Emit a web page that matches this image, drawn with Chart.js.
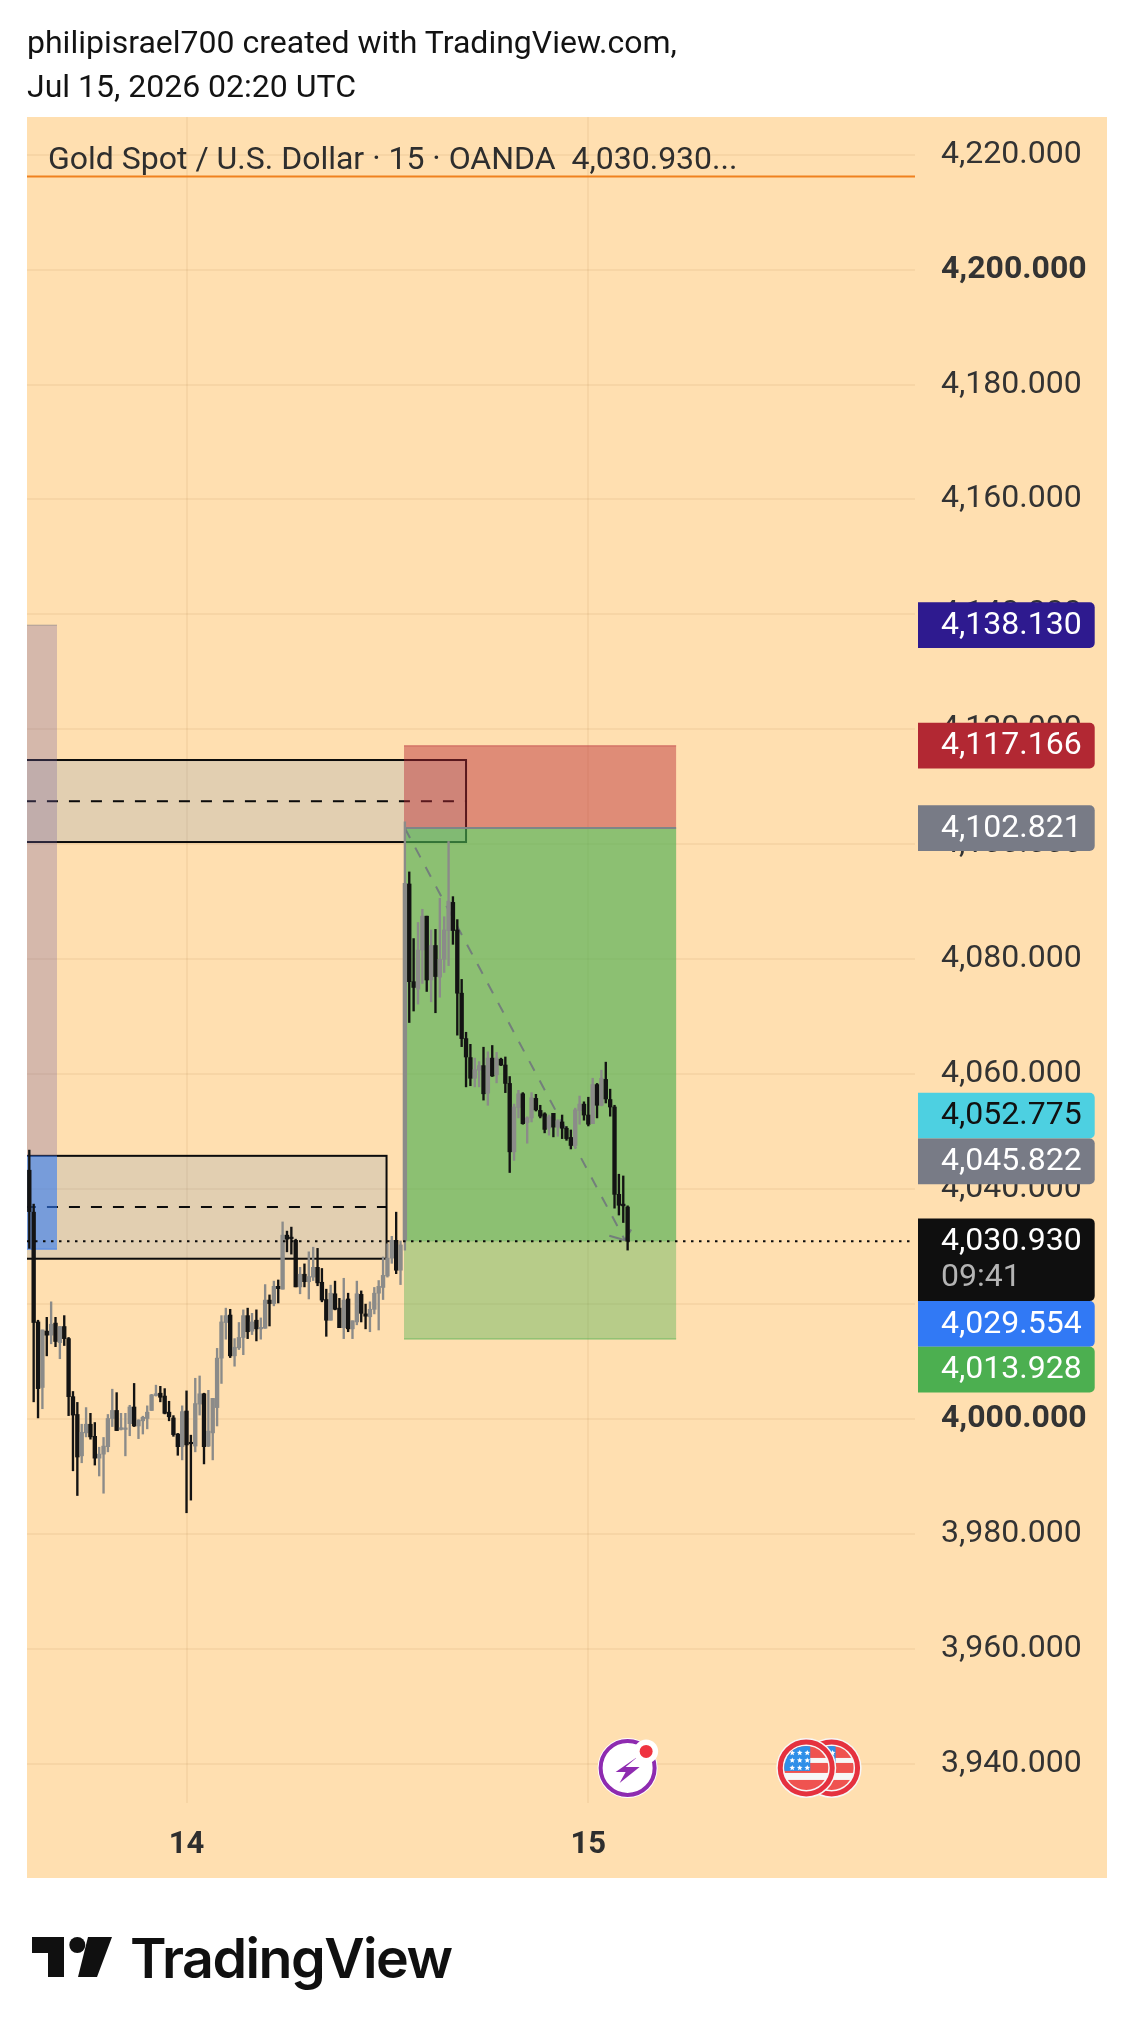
<!DOCTYPE html>
<html>
<head>
<meta charset="utf-8">
<title>Gold Spot / U.S. Dollar</title>
<script src="https://cdn.jsdelivr.net/npm/chart.js@4"></script>
<style>
  html, body { margin: 0; padding: 0; background: #fff; width: 1134px; height: 2038px; overflow: hidden; font-family: Roboto, sans-serif; }
  #c { position: absolute; left: 0; top: 0; }
  .t { position: absolute; white-space: pre; color: #131313; }
  #h1 { left: 27px; top: 23px; font-size: 32px; line-height: 38px; }
  #h2 { left: 27px; top: 67px; font-size: 32px; line-height: 38px; }
  #leg { left: 48px; top: 139px; font-size: 32px; line-height: 38px; color: #2e2e2e; }
  #logo { position: absolute; left: 0; top: 0; }
  #brand { left: 130px; top: 1925px; font: 600 55.5px/66px Inter, sans-serif; letter-spacing: -1.5px; color: #101010; }
</style>
</head>
<body>
<canvas id="c" width="1134" height="2038"></canvas>
<div class="t" id="h1">philipisrael700 created with TradingView.com,</div>
<div class="t" id="h2">Jul 15, 2026 02:20 UTC</div>
<div class="t" id="leg">Gold Spot / U.S. Dollar · 15 · OANDA  4,030.930...</div>
<svg id="logo" width="130" height="2038" viewBox="0 0 130 2038">
  <path d="M32 1937h32v40h-16v-24h-16z" fill="#101010"/>
  <circle cx="77.3" cy="1945" r="8" fill="#101010"/>
  <path d="M88 1937h24l-15 40h-19z" fill="#101010"/>
</svg>
<div class="t" id="brand">TradingView</div>
<script>
(function () {
  // 15m candles
  const opens = [
    4043.3,4036.0,4016.9,4005.5,4015.3,4014.6,4016.7,4013.3,4016.1,4014.0,
    4003.9,4000.8,3993.6,3997.6,3999.1,3997.0,3993.2,3993.9,3995.2,4000.1,
    4001.5,3998.2,3998.2,3999.2,4002.1,3998.8,3999.7,4000.1,4001.5,4004.1,
    4004.5,4004.0,4001.2,4000.2,3997.4,3995.2,4001.4,3995.9,3995.3,4002.6,
    4004.4,3995.3,3997.6,4002.0,4010.6,4016.8,4018.1,4011.0,4012.4,4014.2,
    4018.0,4015.3,4017.2,4015.7,4015.8,4020.7,4020.1,4023.1,4022.6,4032.0,
    4031.6,4031.1,4023.0,4025.2,4023.9,4024.7,4026.4,4023.8,4020.8,4017.2,
    4021.8,4019.3,4015.9,4020.9,4015.7,4016.9,4021.7,4018.3,4017.8,4019.1,
    4021.9,4022.9,4024.9,4028.0,4031.1,4025.9,4031.1,4093.1,4076.1,4074.8,
    4081.6,4087.5,4076.4,4082.4,4076.9,4080.0,4085.0,4089.9,4085.1,4074.1,
    4066.2,4062.9,4059.3,4060.7,4061.5,4056.7,4062.8,4059.9,4062.6,4061.6,
    4058.4,4046.5,4054.2,4056.6,4051.6,4052.4,4055.8,4053.7,4053.1,4050.6,
    4053.2,4050.8,4051.7,4050.6,4049.0,4047.6,4053.7,4054.8,4052.9,4051.4,
    4058.2,4054.6,4059.1,4055.6,4054.3,4039.1,4037.4,4036.9];
  const highs = [
    4046.8,4037.4,4017.2,4015.5,4017.7,4020.4,4017.7,4016.1,4018.0,4014.2,
    4004.8,4002.9,3999.1,4002.0,4001.0,3999.4,3995.1,3996.8,4000.8,4005.2,
    4004.6,4001.0,4001.0,4002.4,4006.2,3999.9,4000.5,4002.3,4004.3,4005.9,
    4005.7,4005.3,4003.1,4000.6,3997.5,4002.3,4004.9,3997.2,4007.1,4007.5,
    4004.5,4005.0,4003.6,4012.3,4018.0,4019.3,4019.1,4014.0,4016.8,4019.0,
    4019.3,4018.4,4019.0,4017.6,4023.4,4021.6,4024.0,4024.2,4034.3,4032.7,
    4033.4,4031.3,4026.4,4027.0,4029.1,4029.9,4029.7,4026.2,4022.6,4023.3,
    4024.0,4021.0,4024.5,4021.9,4017.1,4024.0,4022.3,4020.0,4020.4,4022.9,
    4024.1,4028.2,4030.5,4031.8,4036.0,4031.0,4103.9,4095.2,4083.6,4086.4,
    4088.7,4087.5,4085.1,4085.2,4090.6,4087.4,4100.5,4090.9,4086.9,4076.5,
    4067.3,4065.2,4062.8,4062.2,4064.7,4063.9,4065.0,4063.8,4062.8,4063.0,
    4059.6,4054.8,4057.2,4056.8,4052.6,4056.8,4056.5,4054.6,4053.3,4052.9,
    4053.2,4052.1,4052.9,4050.9,4050.3,4054.1,4056.2,4055.2,4056.0,4059.3,
    4058.4,4060.7,4062.1,4057.4,4054.6,4042.6,4042.3,4037.1];
  const lows = [
    4029.7,4003.0,4000.2,4001.8,4011.0,4013.1,4012.6,4010.5,4012.8,4000.6,
    3991.0,3986.7,3992.4,3996.9,3996.5,3992.0,3990.1,3987.1,3994.3,3998.7,
    3998.0,3998.1,3993.6,3997.1,3998.7,3996.6,3997.4,3998.3,4001.5,4004.0,
    4003.0,4000.9,3999.7,3997.0,3993.7,3992.9,3983.7,3985.9,3994.3,4000.7,
    3992.2,3995.2,3992.9,3998.8,4006.2,4013.9,4010.7,4009.2,4012.1,4011.2,
    4014.0,4014.7,4013.6,4013.9,4015.8,4016.2,4019.7,4020.2,4022.6,4029.1,
    4028.7,4023.0,4021.8,4023.0,4020.9,4024.1,4023.2,4020.4,4014.4,4017.2,
    4019.0,4015.9,4014.0,4015.2,4014.0,4016.4,4016.9,4015.7,4015.2,4018.3,
    4015.5,4020.8,4024.7,4027.1,4025.3,4023.4,4029.4,4069.0,4071.0,4072.2,
    4075.8,4074.4,4072.6,4070.7,4073.4,4077.7,4078.9,4082.6,4066.8,4064.8,
    4057.8,4058.0,4057.8,4057.8,4055.5,4054.6,4059.6,4058.5,4061.5,4056.8,
    4042.9,4045.0,4052.4,4051.3,4048.0,4051.7,4053.6,4052.4,4049.8,4049.4,
    4049.1,4049.2,4048.8,4048.5,4047.0,4047.1,4051.3,4052.0,4051.0,4051.4,
    4052.4,4054.5,4055.0,4052.7,4036.7,4035.5,4034.2,4029.4];
  const closes = [
    4036.1,4016.8,4005.3,4015.5,4014.6,4016.5,4013.5,4016.1,4014.0,4003.9,
    4000.7,3993.4,3997.7,3999.1,3996.9,3993.2,3993.9,3995.3,4000.1,4001.5,
    3998.0,3998.5,3998.4,4002.1,3998.8,3999.8,4000.3,4001.2,4004.2,4004.4,
    4003.8,4001.0,4000.4,3997.3,3995.2,4001.3,3995.5,3995.7,4002.7,4004.4,
    3995.2,3997.9,4003.6,4010.6,4016.9,4018.0,4011.0,4012.5,4014.2,4018.0,
    4015.2,4016.9,4015.7,4015.9,4020.7,4020.1,4023.1,4022.7,4032.0,4031.3,
    4031.4,4023.0,4025.2,4023.9,4024.8,4026.4,4023.7,4020.7,4017.2,4021.9,
    4019.1,4015.9,4020.7,4015.7,4017.1,4021.8,4018.4,4017.9,4019.1,4021.9,
    4023.1,4025.0,4028.0,4031.1,4025.9,4030.3,4093.2,4076.1,4075.1,4081.6,
    4087.5,4076.4,4082.4,4077.0,4080.0,4085.1,4090.1,4085.0,4074.1,4066.2,
    4063.0,4059.3,4060.8,4061.5,4056.6,4062.8,4059.7,4062.8,4061.6,4058.4,
    4046.5,4054.3,4056.6,4051.4,4052.4,4055.9,4053.8,4052.7,4050.4,4052.6,
    4050.8,4051.9,4050.6,4048.8,4047.6,4053.8,4054.8,4052.9,4051.3,4058.2,
    4054.6,4059.3,4055.7,4054.3,4039.1,4037.2,4037.1,4030.93];

  const priceTicks = [3940,3960,3980,4000,4020,4040,4060,4080,4100,4120,4140,4160,4180,4200,4220];
  const boldTicks = [4000,4200];
  const dateTicks = [36,128];
  const dateLabels = ["14","15"];

  // right hand price tags
  const tagPrices = [4138.130,4117.166,4102.821,4052.775,4045.822,4030.930,4029.554,4013.928];
  const tagColors = ["#2e1a8f","#b22833","#787b86","#4dd0e1","#787b86","#0f0f0f","#3179f5","#4caf50"];
  const tagInk    = ["#fff","#fff","#fff","#111","#fff","#fff","#fff","#fff"];
  const countdown = "09:41";

  // drawings, [bar from, bar to, price top, price bottom]
  const stripPink = [-1,6.34,4138.13,4045.822];
  const stripBlue = [-1,6.34,4045.822,4029.554];
  const zoneUpper = [-1,100,4114.67,4100.4,4107.5];
  const zoneLower = [-1,81.8,4045.8,4027.9,4036.9];
  const posBars = [85.8,148.1];
  const posStop = 4117.166, posEntry = 4102.821, posTarget = 4013.928, lastPrice = 4030.93;
  const pathLine = [86,4102.8,136.4,4031.1];
  const pathHead = [[132.8,4031.9],[137.8,4033.0]];
  const topLine = 4216.2;
  const eventBars = [137,177.9,183.7];
  const eventPrice = 3939.3;

  const FONT = "Roboto";
  const grid = "rgba(150,100,40,.08)";
  const ticksFont = (c) => ({ family: FONT, size: 32, weight: boldTicks.includes(c.tick && c.tick.value) ? "700" : "400" });
  const fmt = (v) => v.toLocaleString("en-US", { minimumFractionDigits: 3, maximumFractionDigits: 3 });
  const ink = opens.map((o, i) => (closes[i] < o ? "#131313" : "#8b8b89"));

  function star(g, x, y, r) {
    g.beginPath();
    for (let k = 0; k < 10; k++) {
      const a = -Math.PI / 2 + k * Math.PI / 5, q = k % 2 ? r * .45 : r;
      g.lineTo(x + Math.cos(a) * q, y + Math.sin(a) * q);
    }
    g.closePath(); g.fill();
  }

  function flag(g, x, y) {
    g.save();
    g.fillStyle = "#f7f7f7"; g.beginPath(); g.arc(x, y, 30, 0, 7); g.fill();
    g.strokeStyle = "#e5313f"; g.lineWidth = 5; g.beginPath(); g.arc(x, y, 26, 0, 7); g.stroke();
    g.beginPath(); g.arc(x, y, 22, 0, 7); g.clip();
    g.fillStyle = "#ef5350";
    g.fillRect(x - 24, y - 22, 48, 12); g.fillRect(x - 24, y - 5, 48, 10); g.fillRect(x - 24, y + 12, 48, 12);
    g.fillStyle = "#2f8fe8"; g.fillRect(x - 24, y - 22, 28, 25);
    g.fillStyle = "#fff";
    for (let r = 0; r < 3; r++) for (let k = 0; k < 3; k++) star(g, x - 14 + k * 7.5, y - 15 + r * 7.5, 3);
    g.restore();
  }

  function bolt(g, x, y) {
    g.save();
    g.fillStyle = "#fff"; g.beginPath(); g.arc(x, y, 30, 0, 7); g.fill();
    g.strokeStyle = "#8e2bb0"; g.lineWidth = 4; g.beginPath(); g.arc(x, y, 27, 0, 7); g.stroke();
    g.fillStyle = "#8e2bb0"; g.beginPath();
    const p = [[11,-12],[-2,-1],[12,-1],[-8,15],[-2,4],[-12,4]];
    p.forEach((q) => g.lineTo(x + q[0], y + q[1]));
    g.closePath(); g.fill();
    g.fillStyle = "#fff"; g.beginPath(); g.arc(x + 18.5, y - 16.5, 12, 0, 7); g.fill();
    g.fillStyle = "#ef3340"; g.beginPath(); g.arc(x + 18.5, y - 16.5, 6.5, 0, 7); g.fill();
    g.restore();
  }

  const paneBg = {
    id: "paneBg",
    beforeDraw(ch) {
      const g = ch.ctx, a = ch.chartArea;
      g.save();
      g.fillStyle = "#ffdfb0";
      g.fillRect(a.left, a.top, 1107 - a.left, 1878 - a.top);
      g.restore();
    }
  };

  const drawings = {
    id: "drawings",
    beforeDatasetsDraw(ch) {
      const g = ch.ctx, a = ch.chartArea, X = ch.scales.x, Y = ch.scales.y;
      const rect = (b0, b1, p0, p1, fill) => {
        const x0 = X.getPixelForValue(b0), x1 = X.getPixelForValue(b1), y0 = Y.getPixelForValue(p0), y1 = Y.getPixelForValue(p1);
        g.fillStyle = fill; g.fillRect(x0, y0, x1 - x0, y1 - y0);
      };
      const hline = (b0, b1, p, col, w, dash) => {
        g.strokeStyle = col; g.lineWidth = w; g.setLineDash(dash || []);
        g.beginPath(); g.moveTo(X.getPixelForValue(b0), Y.getPixelForValue(p)); g.lineTo(X.getPixelForValue(b1), Y.getPixelForValue(p)); g.stroke();
        g.setLineDash([]);
      };
      g.save();
      g.beginPath(); g.rect(a.left, a.top, a.right - a.left, a.bottom - a.top); g.clip();

      hline(X.min, X.max, topLine, "#f0811e", 2);

      [zoneUpper, zoneLower].forEach((z) => {
        rect(z[0], z[1], z[2], z[3], "rgba(110,143,186,.2)");
        g.strokeStyle = "#0b0b0b"; g.lineWidth = 2;
        const x0 = X.getPixelForValue(z[0]), x1 = X.getPixelForValue(z[1]), y0 = Y.getPixelForValue(z[2]), y1 = Y.getPixelForValue(z[3]);
        g.strokeRect(x0, y0, x1 - x0, y1 - y0);
        hline(z[0], z[1], z[4], "#0b0b0b", 2, [11, 11]);
      });

      rect(stripPink[0], stripPink[1], stripPink[2], stripPink[3], "rgba(115,96,160,.3)");
      hline(stripPink[0], stripPink[1], stripPink[2], "rgba(120,120,130,.35)", 1.5);
      rect(stripBlue[0], stripBlue[1], stripBlue[2], stripBlue[3], "rgba(49,121,245,.6)");
      hline(stripBlue[0], stripBlue[1], stripBlue[3], "rgba(49,121,245,.5)", 1.5);

      rect(posBars[0], posBars[1], posStop, posEntry, "rgba(184,41,51,.45)");
      rect(posBars[0], posBars[1], posEntry, posTarget, "rgba(76,175,80,.4)");
      rect(posBars[0], posBars[1], posEntry, lastPrice, "rgba(76,175,80,.4)");
      hline(posBars[0], posBars[1], posStop, "rgba(178,40,51,.35)", 1.5);
      hline(posBars[0], posBars[1], posEntry, "#7f8587", 2);
      hline(posBars[0], posBars[1], posTarget, "rgba(76,175,80,.45)", 1.5);

      g.strokeStyle = "rgba(110,115,125,.85)"; g.lineWidth = 2; g.setLineDash([11, 11]);
      g.beginPath();
      g.moveTo(X.getPixelForValue(pathLine[0]), Y.getPixelForValue(pathLine[1]));
      g.lineTo(X.getPixelForValue(pathLine[2]), Y.getPixelForValue(pathLine[3]));
      g.stroke(); g.setLineDash([]);
      pathHead.forEach((q) => {
        g.beginPath();
        g.moveTo(X.getPixelForValue(pathLine[2]), Y.getPixelForValue(pathLine[3]));
        g.lineTo(X.getPixelForValue(q[0]), Y.getPixelForValue(q[1]));
        g.stroke();
      });
      g.restore();
    },
    afterDraw(ch) {
      const g = ch.ctx, a = ch.chartArea, X = ch.scales.x, Y = ch.scales.y;
      g.save();
      // last price dots
      const ly = Y.getPixelForValue(lastPrice);
      g.strokeStyle = "#0b0b0b"; g.lineWidth = 2; g.setLineDash([2.5, 5.5]);
      g.beginPath(); g.moveTo(a.left, ly); g.lineTo(a.right, ly); g.stroke(); g.setLineDash([]);

      // event icons sit on the time line
      const ey = Y.getPixelForValue(eventPrice);
      flag(g, X.getPixelForValue(eventBars[2]), ey);
      flag(g, X.getPixelForValue(eventBars[1]), ey);
      bolt(g, X.getPixelForValue(eventBars[0]), ey);

      // tags get pushed down when they would overlap
      let bottom = -1e9;
      g.textBaseline = "middle"; g.textAlign = "left";
      tagPrices.forEach((p, i) => {
        const big = p === lastPrice, h = big ? 82.7 : 45.7;
        const c = Y.getPixelForValue(p);
        const top = Math.max(bottom, c - 22.9);
        bottom = top + h;
        g.fillStyle = tagColors[i];
        g.beginPath(); g.roundRect(a.right + 3, top, 176.7, h, [0, 5, 5, 0]); g.fill();
        g.font = "400 32px " + FONT; g.fillStyle = tagInk[i];
        g.fillText(fmt(p), 941, top + 23.5);
        if (big) { g.fillStyle = "#b4b4b4"; g.fillText(countdown, 941, top + 60); }
      });
      g.restore();
    }
  };

  new Chart(document.getElementById("c"), {
    type: "bar",
    data: { datasets: [
      { data: lows.map((l, i) => ({ x: i, y: [l, highs[i]] })), backgroundColor: ink, barThickness: 1.7, grouped: false, order: 2 },
      { data: opens.map((o, i) => ({ x: i, y: [o, closes[i]] })), backgroundColor: ink, barThickness: 3.7, grouped: false, order: 1, minBarLength: 1.5 }
    ] },
    options: {
      responsive: false, animation: false, devicePixelRatio: 1,
      layout: { padding: { left: 27, top: 117, right: 27, bottom: 160 } },
      plugins: { legend: { display: false }, tooltip: { enabled: false } },
      scales: {
        x: { type: "linear", min: -0.527, max: 202.8, offset: false,
          grid: { color: grid, lineWidth: 2, offset: false, drawTicks: false }, border: { display: false },
          afterBuildTicks: (s) => { s.ticks = dateTicks.map((v) => ({ value: v })); },
          afterFit: (s) => { s.height = 75; },
          ticks: { autoSkip: false, maxRotation: 0, padding: 24, color: "#2e2e2e", font: { family: FONT, size: 31, weight: "700" },
            callback: (v) => dateLabels[dateTicks.indexOf(v)] } },
        y: { position: "right", min: 3933.2, max: 4226.55,
          grid: { color: grid, lineWidth: 2, drawTicks: false }, border: { display: false },
          afterBuildTicks: (s) => { s.ticks = priceTicks.map((v) => ({ value: v })); },
          afterFit: (s) => { s.width = 192; },
          ticks: { autoSkip: false, padding: 26, color: "#333", font: ticksFont, callback: (v) => fmt(v) } }
      }
    },
    plugins: [paneBg, drawings]
  });
})();
</script>
</body>
</html>
